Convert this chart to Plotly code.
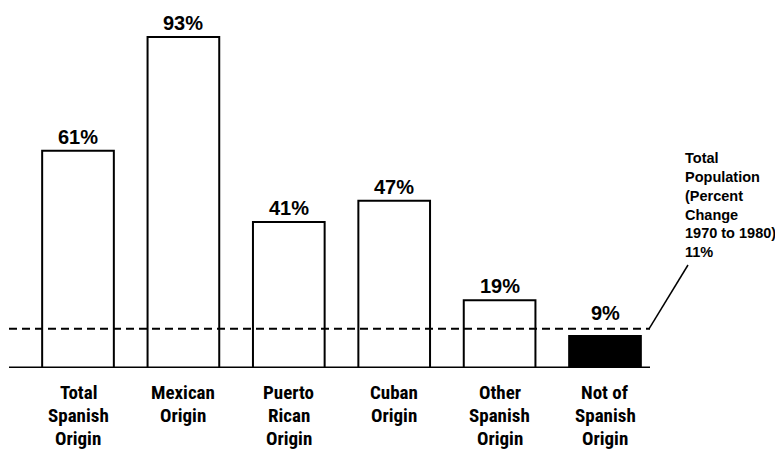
import plotly.graph_objects as go

categories = ["Total<br>Spanish<br>Origin", "Mexican<br>Origin", "Puerto<br>Rican<br>Origin",
              "Cuban<br>Origin", "Other<br>Spanish<br>Origin", "Not of<br>Spanish<br>Origin"]
values = [61, 93, 41, 47, 19, 9]
value_labels = ["61%", "93%", "41%", "47%", "19%", "9%"]
bar_colors = ["white", "white", "white", "white", "white", "black"]
total_change = 11
total_label = "Total<br>Population<br>(Percent<br>Change<br>1970 to 1980)<br>11%"

xs = list(range(len(categories)))
OFF = 8  # page body margin
W, H = 783 - OFF, 450 - OFF
PX_UNIT = 105.4
X0PX = 78 - OFF
PX_Y = 3.56
plot_h = 368 - OFF


def dx(page_px):
    return (page_px - OFF - X0PX) / PX_UNIT


def dy(page_px):
    return (plot_h - (page_px - OFF)) / PX_Y


def py(page_px):
    return (plot_h - (page_px - OFF)) / plot_h


x_lo = -X0PX / PX_UNIT
x_hi = (W - X0PX) / PX_UNIT
y_hi = plot_h / PX_Y

narrow = "Roboto Condensed, Noto Sans Condensed, Liberation Sans Narrow, Liberation Sans, Arial, sans-serif"
bold = "Liberation Sans, Arial, Helvetica, sans-serif"

fig = go.Figure()
fig.add_trace(go.Bar(
    x=xs, y=values, width=0.68,
    marker=dict(color=bar_colors, line=dict(color="black", width=2)),
    hoverinfo="skip",
))

annotations = []
for x, v, t in zip(xs, values, value_labels):
    annotations.append(dict(x=x, y=max(v, total_change), xref="x", yref="y", text="<b>%s</b>" % t,
                            showarrow=False, yanchor="bottom", yshift=1 if v >= total_change else 3,
                            font=dict(family=bold, size=20, color="black")))
for x, c in zip(xs, categories):
    for k, line in enumerate(c.split("<br>")):
        annotations.append(dict(x=x, y=py(392 + 23 * k), xref="x", yref="paper",
                                text="<b>%s</b>" % line, showarrow=False, yanchor="middle",
                                align="center",
                                font=dict(family=narrow, size=19, color="black")))
annotations.append(dict(x=dx(683), y=dy(148), xref="x", yref="y",
                        text="<b>%s</b>" % total_label, showarrow=False,
                        xanchor="left", yanchor="top", align="left",
                        font=dict(family=bold, size=14.5, color="black")))

line_x0 = dx(9)
line_x1 = dx(650)
shapes = [
    dict(type="line", xref="x", yref="y", x0=line_x0, x1=line_x1, y0=total_change, y1=total_change,
         line=dict(color="black", width=2, dash="8px,5px")),
    dict(type="line", xref="x", yref="y", x0=line_x0, x1=line_x1, y0=0, y1=0,
         line=dict(color="black", width=3)),
    dict(type="line", xref="x", yref="y", x0=dx(649), y0=total_change,
         x1=dx(688), y1=dy(265),
         line=dict(color="black", width=1.5)),
]

fig.update_layout(
    width=W, height=H,
    margin=dict(l=0, r=0, t=0, b=H - plot_h),
    plot_bgcolor="white", paper_bgcolor="white",
    showlegend=False,
    xaxis=dict(range=[x_lo, x_hi], visible=False, fixedrange=True),
    yaxis=dict(range=[0, y_hi], visible=False, fixedrange=True),
    annotations=annotations, shapes=shapes,
)
fig.write_html("out.html")
